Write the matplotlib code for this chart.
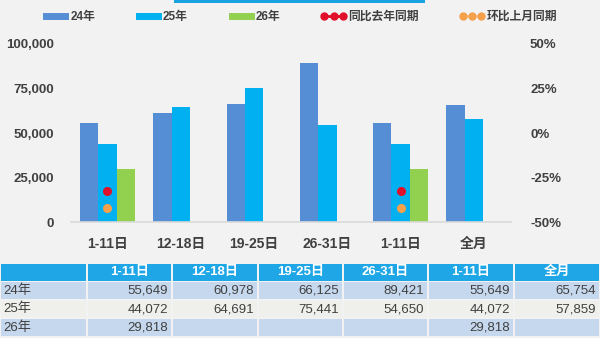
import matplotlib.pyplot as plt
import numpy as np
from matplotlib.lines import Line2D
from matplotlib.patches import Rectangle
from matplotlib.ticker import FuncFormatter

plt.rcParams['font.family'] = ['Liberation Sans', 'Noto Sans CJK SC', 'DejaVu Sans']

# region data
categories = ['1-11日', '12-18日', '19-25日', '26-31日', '1-11日', '全月']
y24 = [55649, 60978, 66125, 89421, 55649, 65754]
y25 = [44072, 64691, 75441, 54650, 44072, 57859]
y26 = [29818, np.nan, np.nan, np.nan, 29818, np.nan]
yoy = [-0.323, np.nan, np.nan, np.nan, -0.323, np.nan]
mom = [-0.42, np.nan, np.nan, np.nan, -0.42, np.nan]
row_names = ['24年', '25年', '26年']
# endregion

C24, C25, C26 = '#558ed5', '#00b0f0', '#92d050'
TXT = '#404040'
BG = '#f2f2f2'

fig = plt.figure(figsize=(6, 3.38), dpi=100, facecolor=BG)

# region chart
ax = fig.add_axes([0.118, 0.343, 0.733, 0.527])
ax.set_facecolor('none')
x = np.arange(len(categories))
w = 0.25
ax.bar(x - w, y24, w, color=C24)
ax.bar(x, y25, w, color=C25)
ax.bar(x + w, y26, w, color=C26)
ax.set_xlim(-0.5, len(categories) - 0.5)
ax.set_ylim(0, 100000)
ax.set_yticks([0, 25000, 50000, 75000, 100000])
ax.yaxis.set_major_formatter(FuncFormatter(lambda v, p: f'{int(v):,}'))
ax.set_xticks(x)
ax.set_xticklabels(categories)
for s in ax.spines.values():
    s.set_visible(False)
ax.axhline(0, color='#d9d9d9', lw=1.2, clip_on=False)
ax.tick_params(length=0, labelsize=9.5, labelcolor=TXT, pad=12)
ax.tick_params(axis='x', labelsize=10, pad=11)
for t in ax.get_xticklabels() + ax.get_yticklabels():
    t.set_fontweight('bold')

ax2 = ax.twinx()
ax2.set_ylim(-0.5, 0.5)
ax2.set_yticks([-0.5, -0.25, 0, 0.25, 0.5])
ax2.yaxis.set_major_formatter(FuncFormatter(lambda v, p: f'{v:.0%}'))
for s in ax2.spines.values():
    s.set_visible(False)
ax2.tick_params(length=0, labelsize=9.5, labelcolor=TXT, pad=14)
for t in ax2.get_yticklabels():
    t.set_fontweight('bold')
ax2.plot(x, yoy, 'o', color='#e0102a', ms=5.5)
ax2.plot(x, mom, 'o', color='#f5a04a', ms=5.5)
# endregion

# region legend
handles = [
    Line2D([], [], color=C24, lw=5),
    Line2D([], [], color=C25, lw=5),
    Line2D([], [], color=C26, lw=5),
    Line2D([], [], color='#e0102a', lw=2, marker='o', ms=5),
    Line2D([], [], color='#fbd3b0', lw=2, marker='o', ms=5,
           markerfacecolor='#f5a04a', markeredgecolor='#f5a04a'),
]
labels = ['24年', '25年', '26年', '同比去年同期', '环比上月同期']
leg = fig.legend(handles, labels, loc='center', bbox_to_anchor=(0.5, 1 - 17 / 338),
                 ncol=5, frameon=False, handlelength=2.2, handletextpad=0.15,
                 columnspacing=3.4, numpoints=3, fontsize=8.5)
for t in leg.get_texts():
    t.set_color(TXT)
    t.set_fontweight('bold')
# endregion

# region table
tab = fig.add_axes([0, 0, 1, 1], zorder=-1)
tab.set_xlim(0, 600)
tab.set_ylim(338, 0)
tab.axis('off')
tab.add_patch(Rectangle((174, 0), 251, 2.5, color='#1aa3e0', lw=0))

col_edges = [0, 87, 172, 258, 343, 428, 514, 600]
row_edges = [263, 281.5, 300, 318, 336.5]
row_colors = ['#1ea6e6', '#c6d8ee', '#efefec', '#c6d8ee']
gap = 1.5
for r in range(4):
    for c in range(7):
        tab.add_patch(Rectangle((col_edges[c] + gap / 2, row_edges[r] + gap / 2),
                                col_edges[c + 1] - col_edges[c] - gap,
                                row_edges[r + 1] - row_edges[r] - gap,
                                color=row_colors[r], lw=0))
for c, name in enumerate(categories):
    tab.text((col_edges[c + 1] + col_edges[c + 2]) / 2, (row_edges[0] + row_edges[1]) / 2,
             name, color='white', fontsize=9.5, fontweight='bold', ha='center', va='center')
for r, (name, vals) in enumerate(zip(row_names, [y24, y25, y26])):
    yc = (row_edges[r + 1] + row_edges[r + 2]) / 2
    tab.text(3, yc, name, color=TXT, fontsize=9.5, ha='left', va='center')
    for c, v in enumerate(vals):
        if not np.isnan(v):
            tab.text(col_edges[c + 2] - 4, yc, f'{int(v):,}', color=TXT, fontsize=9.5,
                     ha='right', va='center')
# endregion

fig.savefig('out.png', dpi=100, facecolor=BG)
